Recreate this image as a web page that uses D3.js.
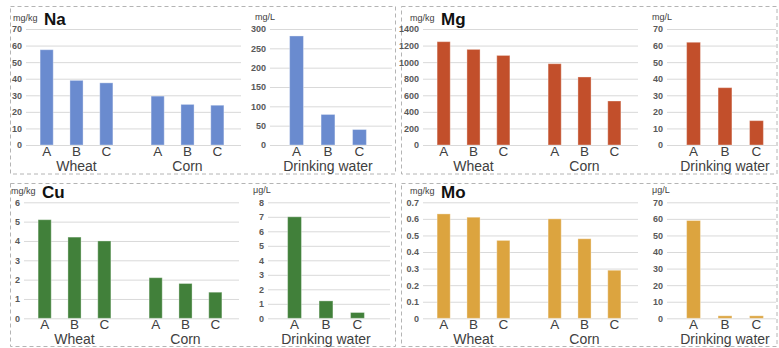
<!DOCTYPE html>
<html>
<head>
<meta charset="utf-8">
<script src="https://cdn.jsdelivr.net/npm/d3@7"></script>
<style>
  html, body { margin: 0; padding: 0; background: #fff; }
  svg { display: block; font-family: "Liberation Sans", Arial, sans-serif; }
</style>
</head>
<body>
<script>
// ---------- data ----------
const groups = ["Wheat", "Corn"];
const samples = ["A", "B", "C"];
const waterLabel = "Drinking water";

const naWheat = [57.5, 39, 37.5];
const naCorn  = [29.5, 24.5, 24];
const naWater = [282, 79, 40];

const mgWheat = [1247, 1154, 1081];
const mgCorn  = [981, 821, 531];
const mgWater = [62, 34.6, 14.7];

const cuWheat = [5.1, 4.2, 4.0];
const cuCorn  = [2.1, 1.8, 1.35];
const cuWater = [7.0, 1.2, 0.4];

const moWheat = [0.63, 0.61, 0.47];
const moCorn  = [0.60, 0.48, 0.29];
const moWater = [59, 1.5, 1.5];

const naTicks = [0, 10, 20, 30, 40, 50, 60, 70];
const naWaterTicks = [0, 50, 100, 150, 200, 250, 300];
const mgTicks = [0, 200, 400, 600, 800, 1000, 1200, 1400];
const mgWaterTicks = [0, 10, 20, 30, 40, 50, 60, 70];
const cuTicks = [0, 1, 2, 3, 4, 5, 6];
const cuWaterTicks = [0, 1, 2, 3, 4, 5, 6, 7, 8];
const moTicks = [0, 0.1, 0.2, 0.3, 0.4, 0.5, 0.6, 0.7];
const moWaterTicks = [0, 10, 20, 30, 40, 50, 60, 70];

const elements = ["Na", "Mg", "Cu", "Mo"];
const solidUnits = ["mg/kg", "mg/kg", "mg/kg", "mg/kg"];
const waterUnits = ["mg/L", "mg/L", "μg/L", "μg/L"];

// ---------- panel configuration built from the arrays ----------
const panels = [
  { name: elements[0], solid: [naWheat, naCorn], water: naWater, ticks: naTicks, wTicks: naWaterTicks, unit: solidUnits[0], wUnit: waterUnits[0], color: "#6a8bcf", ox: 0,   oy: 0 },
  { name: elements[1], solid: [mgWheat, mgCorn], water: mgWater, ticks: mgTicks, wTicks: mgWaterTicks, unit: solidUnits[1], wUnit: waterUnits[1], color: "#c24f2b", ox: 397, oy: 0 },
  { name: elements[2], solid: [cuWheat, cuCorn], water: cuWater, ticks: cuTicks, wTicks: cuWaterTicks, unit: solidUnits[2], wUnit: waterUnits[2], color: "#41803a", ox: -2,  oy: 173.3 },
  { name: elements[3], solid: [moWheat, moCorn], water: moWater, ticks: moTicks, wTicks: moWaterTicks, unit: solidUnits[3], wUnit: waterUnits[3], color: "#dca43f", ox: 397, oy: 173.3 }
];

const W = 779, H = 348;
const svg = d3.select("body").append("svg").attr("width", W).attr("height", H);

// dashed panel frames
const frames = [
  [10.5, 6.5, 385, 167.5],
  [401.5, 6.5, 375.5, 167.5],
  [10.5, 183.5, 385, 163],
  [401.5, 183.5, 375.5, 163]
];
svg.selectAll("rect.frame").data(frames).join("rect")
  .attr("class", "frame")
  .attr("x", d => d[0]).attr("y", d => d[1])
  .attr("width", d => d[2]).attr("height", d => d[3])
  .attr("fill", "none").attr("stroke", "#b4b4b4").attr("stroke-width", 1)
  .attr("stroke-dasharray", "4,3");

const tickFill = "#595959";
const labelFill = "#404040";
const catY = 155.5, grpY = 171;

panels.forEach(p => {
  const g = svg.append("g").attr("transform", `translate(${p.ox},${p.oy})`);

  // ---- solid (wheat/corn) chart ----
  const y = d3.scaleLinear().domain([0, d3.max(p.ticks)]).range([145, 29]);
  const gridL = 26, gridR = 241;
  const yAxis = d3.axisLeft(y).tickValues(p.ticks).tickSize(-(gridR - gridL)).tickPadding(4)
    .tickFormat(d => String(+d.toFixed(2)));
  const ax = g.append("g").attr("transform", `translate(${gridL},0)`).call(yAxis);
  ax.select(".domain").remove();
  ax.selectAll(".tick line").attr("stroke", "#d9d9d9");
  ax.selectAll(".tick text").attr("fill", tickFill).attr("font-size", 9).attr("font-weight", "bold");

  const outer = d3.scaleBand().domain(groups).range([21, 243]);
  const inner = d3.scaleBand().domain(samples).range([0, outer.bandwidth()]).paddingInner(0.56).paddingOuter(0.64);

  groups.forEach((grp, gi) => {
    const vals = p.solid[gi];
    const gg = g.append("g").attr("transform", `translate(${outer(grp)},0)`);
    gg.selectAll("rect").data(samples).join("rect")
      .attr("x", s => inner(s))
      .attr("width", inner.bandwidth())
      .attr("y", (s, i) => y(vals[i]))
      .attr("height", (s, i) => y(0) - y(vals[i]))
      .attr("fill", p.color)
      .attr("stroke", "rgba(255,255,255,0.35)").attr("stroke-width", 1);
    gg.selectAll("text.cat").data(samples).join("text")
      .attr("class", "cat")
      .attr("x", s => inner(s) + inner.bandwidth() / 2)
      .attr("y", catY)
      .attr("text-anchor", "middle").attr("font-size", 13.5).attr("fill", labelFill)
      .text(s => s);
    gg.append("text")
      .attr("x", outer.bandwidth() / 2).attr("y", grpY)
      .attr("text-anchor", "middle").attr("font-size", 14).attr("fill", labelFill)
      .text(grp);
  });

  // unit and title
  g.append("text").attr("x", 13).attr("y", 21).attr("font-size", 9).attr("fill", "#404040").text(p.unit);
  g.append("text").attr("x", 44).attr("y", 25).attr("font-size", 17).attr("font-weight", "bold").attr("fill", "#111").text(p.name);

  // ---- drinking water chart ----
  const yw = d3.scaleLinear().domain([0, d3.max(p.wTicks)]).range([145, 29]);
  const wL = 270, wR = Math.min(392, 776 - p.ox);
  const wAxis = d3.axisLeft(yw).tickValues(p.wTicks).tickSize(-(wR - wL)).tickPadding(4);
  const axw = g.append("g").attr("transform", `translate(${wL},0)`).call(wAxis);
  axw.select(".domain").remove();
  axw.selectAll(".tick line").attr("stroke", "#d9d9d9");
  axw.selectAll(".tick text").attr("fill", tickFill).attr("font-size", 9).attr("font-weight", "bold");

  const xw = d3.scaleBand().domain(samples).range([266, 390]).paddingInner(0.56).paddingOuter(0.75);
  g.selectAll("rect.w").data(samples).join("rect")
    .attr("class", "w")
    .attr("x", s => xw(s))
    .attr("width", xw.bandwidth())
    .attr("y", (s, i) => yw(p.water[i]))
    .attr("height", (s, i) => yw(0) - yw(p.water[i]))
    .attr("fill", p.color)
    .attr("stroke", "rgba(255,255,255,0.35)").attr("stroke-width", 1);
  g.selectAll("text.wcat").data(samples).join("text")
    .attr("class", "wcat")
    .attr("x", s => xw(s) + xw.bandwidth() / 2)
    .attr("y", catY)
    .attr("text-anchor", "middle").attr("font-size", 13.5).attr("fill", labelFill)
    .text(s => s);
  g.append("text")
    .attr("x", (xw.range()[0] + xw.range()[1]) / 2).attr("y", grpY)
    .attr("text-anchor", "middle").attr("font-size", 14).attr("fill", labelFill)
    .text(waterLabel);
  g.append("text").attr("x", 255).attr("y", 19.5).attr("font-size", 9).attr("fill", "#404040").text(p.wUnit);
});
</script>
</body>
</html>
